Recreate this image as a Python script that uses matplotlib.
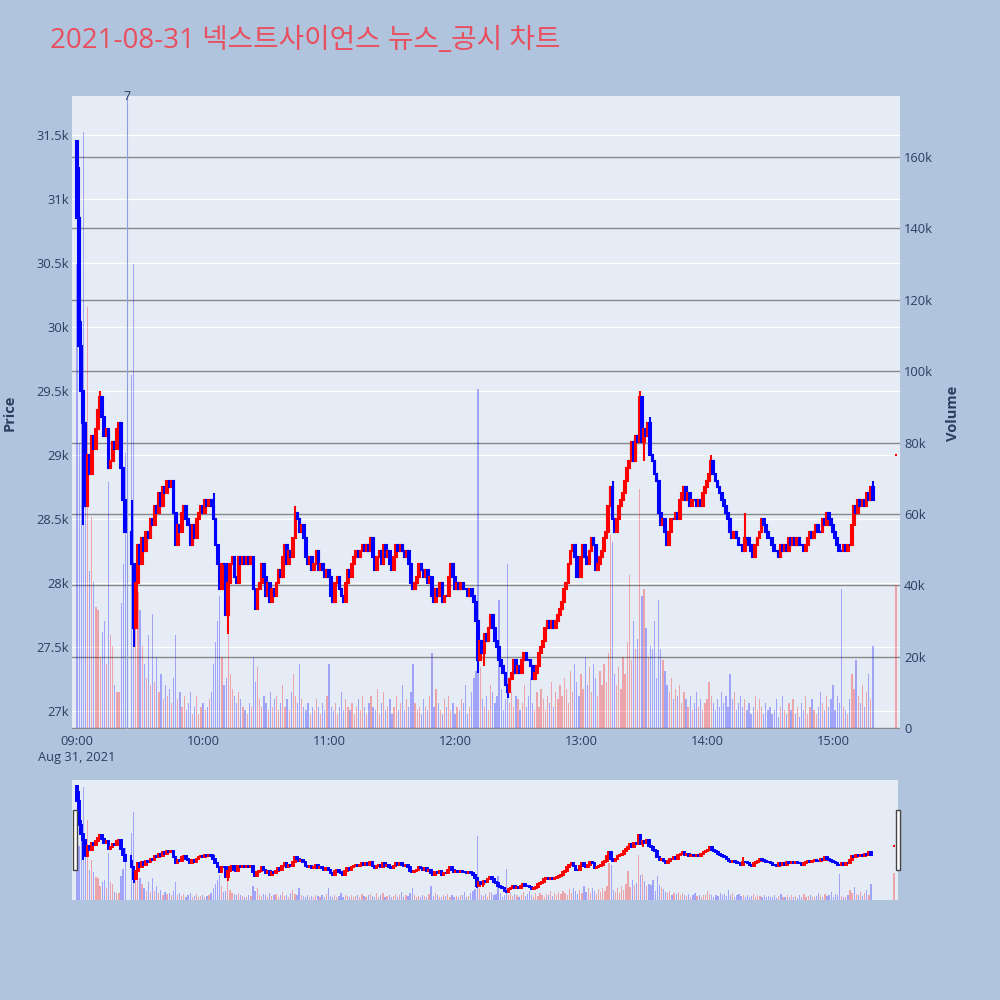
import numpy as np
import pandas as pd
import matplotlib
matplotlib.use('Agg')
import matplotlib.pyplot as plt
import matplotlib.dates as mdates
import matplotlib.ticker as mtick
from matplotlib.transforms import blended_transform_factory
from matplotlib.patches import Rectangle

plt.rcParams['font.family'] = ['Open Sans', 'Noto Sans CJK KR', 'DejaVu Sans']

nan = np.nan
title = '2021-08-31 넥스트사이언스 뉴스_공시 차트'

# 1분봉 종가 (09:00 ~ 15:19), 09:24~09:25 는 VI 로 거래 없음
first_open = 31450
closes = [
    30850, 29850, 29500, 29250, 28600, 29000, 28850, 29150, 29050, 29200,
    29350, 29450, 29300, 29150, 29200, 28900, 28950, 29100, 29050, 29200,
    29250, 28900, 28650, 28400, nan, nan, 28150, 27650, 28000, 28300,
    28150, 28350, 28250, 28400, 28350, 28500, 28450, 28600, 28550, 28700,
    28600, 28750, 28700, 28800, 28750, 28800, 28550, 28300, 28450, 28400,
    28550, 28600, 28500, 28450, 28300, 28450, 28350, 28500, 28550, 28600,
    28550, 28650, 28600, 28650, 28600, 28500, 28300, 28150, 27950, 28150,
    28150, 27750, 28000, 28150, 28200, 28050, 28000, 28200, 28150, 28200,
    28150, 28200, 28150, 28200, 27950, 27800, 27950, 28000, 28150, 28050,
    27900, 28000, 27850, 27950, 27900, 28000, 28100, 28050, 28200, 28300,
    28150, 28250, 28200, 28350, 28550, 28500, 28400, 28450, 28350, 28200,
    28150, 28200, 28100, 28150, 28250, 28100, 28150, 28100, 28050, 28100,
    28050, 27900, 27850, 28000, 28050, 27950, 27900, 27850, 28000, 28100,
    28050, 28150, 28200, 28250, 28200, 28250, 28300, 28250, 28300, 28250,
    28350, 28200, 28100, 28200, 28250, 28150, 28300, 28200, 28250, 28150,
    28100, 28200, 28300, 28250, 28300, 28250, 28200, 28250, 28150, 28000,
    27950, 28000, 28050, 28150, 28100, 28050, 28100, 28000, 28050, 27900,
    27850, 27950, 27900, 28000, 27850, 27900, 27900, 28050, 28150, 28050,
    27950, 28000, 27950, 28000, 27950, 27950, 27900, 27950, 27900, 27850,
    27700, 27400, 27550, 27450, 27600, 27550, 27650, 27750, 27650, 27550,
    27500, 27400, 27350, 27300, 27200, 27150, 27250, 27300, 27400, 27300,
    27350, 27300, 27400, 27450, 27400, 27400, 27350, 27250, 27300, 27350,
    27450, 27500, 27550, 27650, 27700, 27650, 27700, 27650, 27700, 27750,
    27800, 27850, 27950, 28000, 28150, 28250, 28300, 28200, 28050, 28050,
    28200, 28300, 28200, 28150, 28250, 28350, 28300, 28100, 28150, 28200,
    28250, 28350, 28400, 28600, 28750, 28500, 28400, 28500, 28600, 28650,
    28700, 28800, 28900, 28950, 29100, 28950, 29150, 29100, 29450, 29100,
    29200, 29150, 29250, 29000, 28950, 28850, 28800, 28550, 28450, 28500,
    28400, 28300, 28400, 28500, 28500, 28550, 28500, 28650, 28700, 28750,
    28650, 28700, 28600, 28650, 28650, 28600, 28650, 28600, 28700, 28750,
    28800, 28850, 28950, 28850, 28800, 28750, 28700, 28650, 28600, 28550,
    28500, 28400, 28350, 28400, 28350, 28300, 28300, 28250, 28350, 28350,
    28300, 28250, 28200, 28300, 28350, 28400, 28500, 28450, 28400, 28350,
    28350, 28300, 28250, 28250, 28200, 28300, 28250, 28300, 28250, 28350,
    28300, 28350, 28300, 28350, 28300, 28300, 28250, 28300, 28350, 28400,
    28350, 28400, 28450, 28400, 28400, 28500, 28450, 28550, 28500, 28450,
    28400, 28350, 28300, 28250, 28250, 28300, 28250, 28300, 28300, 28450,
    28600, 28550, 28650, 28600, 28650, 28600, 28700, 28650, 28750, 28650,
]
# 거래량 (천주)
volumes = [
    130, 80, 95, 167, 75, 118, 44, 59, 41, 34,
    33, 20, 27, 30, 18, 69, 26, 23, 12, 10,
    10, 35, 46, 77, nan, nan, 99, 130, 40, 38,
    33, 23, 18, 14, 26, 12, 32, 13, 20, 10,
    15, 8, 12, 9, 11, 7, 14, 26, 8, 10,
    6, 9, 5, 7, 10, 4, 6, 9, 4, 6,
    7, 5, 6, 8, 10, 18, 24, 30, 37, 20,
    12, 14, 37, 15, 11, 9, 7, 10, 8, 6,
    5, 4, 7, 6, 20, 13, 17, 8, 6, 9,
    7, 5, 10, 6, 8, 9, 5, 7, 12, 6,
    8, 5, 10, 15, 9, 7, 18, 8, 6, 5,
    7, 4, 6, 5, 8, 6, 4, 7, 5, 9,
    18, 6, 5, 7, 4, 6, 10, 5, 8, 6,
    5, 7, 4, 6, 8, 5, 9, 6, 4, 7,
    9, 6, 5, 11, 4, 7, 10, 5, 6, 8,
    4, 6, 9, 5, 7, 12, 5, 8, 6, 10,
    18, 7, 5, 6, 4, 8, 6, 5, 9, 21,
    6, 11, 7, 5, 4, 8, 6, 9, 5, 7,
    4, 6, 5, 8, 7, 12, 4, 6, 10, 14,
    16, 95, 17, 8, 6, 9, 5, 12, 10, 7,
    9, 36, 11, 5, 8, 46, 7, 10, 6, 9,
    8, 5, 7, 12, 6, 9, 14, 7, 5, 10,
    6, 11, 8, 5, 9, 7, 13, 6, 10, 8,
    12, 9, 14, 11, 7, 16, 10, 18, 13, 9,
    15, 11, 20, 12, 17, 10, 18, 14, 9, 16,
    12, 18, 13, 21, 54, 52, 15, 12, 17, 11,
    20, 15, 24, 43, 19, 30, 22, 25, 67, 37,
    39, 28, 20, 23, 22, 30, 14, 36, 22, 19,
    16, 12, 10, 14, 8, 11, 9, 12, 7, 10,
    8, 6, 9, 5, 7, 10, 6, 8, 5, 7,
    8, 13, 9, 7, 5, 8, 6, 10, 7, 9,
    6, 15, 8, 10, 5, 7, 9, 6, 8, 5,
    7, 4, 6, 9, 5, 8, 6, 4, 7, 5,
    6, 4, 5, 8, 3, 6, 9, 5, 4, 7,
    5, 8, 4, 6, 3, 7, 5, 9, 4, 6,
    8, 5, 4, 6, 10, 7, 5, 9, 6, 8,
    12, 5, 9, 7, 39, 6, 5, 4, 8, 15,
    11, 19, 9, 7, 12, 6, 10, 15, 8, 23,
]
# 꼬리 (분 인덱스 -> 가격)
wick_hi = {0: 31450, 1: 31250, 2: 30050, 11: 29500, 26: 28650, 65: 28700,
           104: 28600, 255: 28800, 268: 29500, 273: 29300, 302: 29000,
           318: 28550, 379: 28800}
wick_lo = {3: 28450, 27: 27500, 72: 27600, 191: 27300, 194: 27350,
           205: 27100, 270: 28950}
# 15:30 종가 단일가
close_1530 = 29000
vol_1530 = 40
news_time = '2021-08-31 09:24'
news_label = '7'

RED = '#ff0000'
BLUE = '#0000ff'
TXT = '#2a3f5f'
PLOT_BG = '#e5ecf6'

times = pd.date_range('2021-08-31 09:00', periods=len(closes), freq='min')
df = pd.DataFrame({'close': closes, 'volume': volumes}, index=times)
df['open'] = df['close'].ffill().shift(1)
df.iloc[0, df.columns.get_loc('open')] = first_open
df['high'] = df[['open', 'close']].max(axis=1)
df['low'] = df[['open', 'close']].min(axis=1)
for k, v in wick_hi.items():
    df.iloc[k, df.columns.get_loc('high')] = v
for k, v in wick_lo.items():
    df.iloc[k, df.columns.get_loc('low')] = v
df['up'] = df['close'] > df['open']
df = df.dropna()
last = pd.DataFrame({'close': [close_1530], 'volume': [vol_1530], 'open': [close_1530],
                     'high': [close_1530], 'low': [close_1530], 'up': [True]},
                    index=[pd.Timestamp('2021-08-31 15:30')])
df = pd.concat([df, last])

x = mdates.date2num(df.index)
col = np.where(df['up'], RED, BLUE)
one_min = 1 / 1440
t0 = mdates.date2num(pd.Timestamp('2021-08-31 09:00'))
xlim = (t0 - 2.4 * one_min, t0 + 391.9 * one_min)


def draw_candles(a, width, lw):
    a.vlines(x, df['low'], df['high'], colors=col, lw=lw, zorder=3)
    body = (df['close'] - df['open']).abs()
    a.bar(x, body, bottom=df[['open', 'close']].min(axis=1), width=width,
          color=col, edgecolor=col, linewidth=lw, zorder=3)


fig = plt.figure(figsize=(10, 10), dpi=100, facecolor='#b0c4de')

# 메인 차트
ax = fig.add_axes([0.072, 0.271, 0.828, 0.633])
ax2 = ax.twinx()
ax.set_zorder(ax2.get_zorder() + 1)
ax.patch.set_visible(False)
ax2.patch.set_visible(True)
ax2.set_facecolor(PLOT_BG)

ax2.bar(x, df['volume'] * 1000, width=0.6 * one_min, color=col, alpha=0.3,
        linewidth=0, zorder=1)
draw_candles(ax, 0.8 * one_min, 1.5)

price_ticks = np.arange(27000, 31501, 500)
ax.set_ylim(26859, 31805)
ax2.set_ylim(-280, 177100)
ax.set_xlim(xlim)

# 가격 그리드 (흰색) 는 거래량 막대 뒤에
tr = blended_transform_factory(ax2.transAxes, ax.transData)
for p in price_ticks:
    ax2.plot([0, 1], [p, p], transform=tr, color='white', lw=1, zorder=0.5)
ax2.set_yticks(np.arange(0, 160001, 20000))
ax2.grid(True, axis='y', color='#888888', lw=1)
ax2.set_axisbelow(True)
ax.grid(False)

ax.set_yticks(price_ticks)
ax.yaxis.set_major_formatter(mtick.FuncFormatter(lambda v, p: f'{v/1000:g}k'))
ax2.yaxis.set_major_formatter(mtick.FuncFormatter(lambda v, p: '0' if v == 0 else f'{v/1000:g}k'))
ax.xaxis.set_major_locator(mdates.HourLocator())
ax.xaxis.set_major_formatter(mdates.DateFormatter('%H:%M'))
for a in (ax, ax2):
    a.tick_params(length=0, labelsize=9.3, labelcolor=TXT)
    for s in a.spines.values():
        s.set_visible(False)
ax.tick_params(axis='y', pad=2)
ax.tick_params(axis='x', pad=4)
ax2.tick_params(axis='y', pad=3)

# 뉴스 표시선
nx = mdates.date2num(pd.Timestamp(news_time))
ax.axvline(nx, color='#8f9ee0', lw=0.8, zorder=2)
ax.text(nx, 1.0, news_label, transform=blended_transform_factory(ax.transData, ax.transAxes),
        ha='center', va='center', fontsize=9, color=TXT)

fig.text(0.077, 0.243, 'Aug 31, 2021', ha='center', va='center', fontsize=9.3, color=TXT)
fig.text(0.05, 0.959, title, ha='left', va='center', fontsize=20, color='#e8505f')
fig.text(0.010, 0.587, 'Price', rotation=90, ha='center', va='center',
         fontsize=10.5, fontweight='bold', color=TXT)
fig.text(0.953, 0.587, 'Volume', rotation=90, ha='center', va='center',
         fontsize=10.5, fontweight='bold', color=TXT)

# 레인지 슬라이더
axs = fig.add_axes([0.072, 0.10, 0.826, 0.12])
axs2 = axs.twinx()
axs.set_zorder(axs2.get_zorder() + 1)
axs.patch.set_visible(False)
axs2.patch.set_visible(True)
axs2.set_facecolor(PLOT_BG)
axs2.bar(x, df['volume'] * 1000, width=0.6 * one_min, color=col, alpha=0.3, linewidth=0)
draw_candles(axs, 0.8 * one_min, 1.4)
axs.set_ylim(26815, 31694)
axs2.set_ylim(0, 177000)
axs.set_xlim(xlim)
for a in (axs, axs2):
    a.set_xticks([])
    a.set_yticks([])
    for s in a.spines.values():
        s.set_visible(False)

for hx in (0.073, 0.896):
    fig.patches.append(Rectangle((hx, 0.13), 0.004, 0.06, transform=fig.transFigure,
                                 facecolor='white', edgecolor='#444444', lw=1))

fig.savefig('out.png', dpi=100, facecolor=fig.get_facecolor())
